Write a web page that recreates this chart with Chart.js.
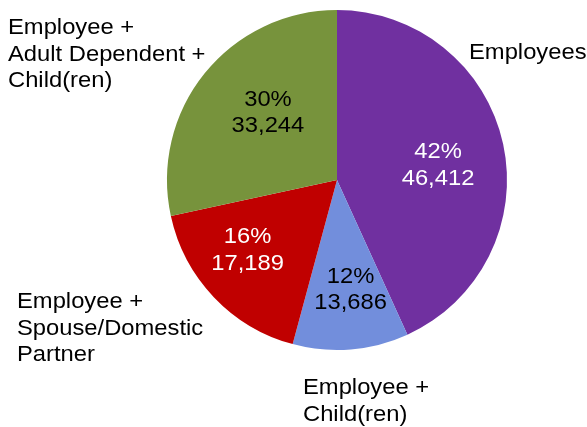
<!DOCTYPE html>
<html>
<head>
<meta charset="utf-8">
<script src="https://cdn.jsdelivr.net/npm/chart.js@4/dist/chart.umd.min.js"></script>
<style>
  html, body { margin: 0; padding: 0; background: #ffffff; }
  #wrap { width: 587px; height: 427px; position: relative; }
</style>
</head>
<body>
<div id="wrap"><canvas id="c" width="587" height="427"></canvas></div>
<script>
const categories = [
  "Employees",
  "Employee + Child(ren)",
  "Employee + Spouse/Domestic Partner",
  "Employee + Adult Dependent + Child(ren)"
];
const categoryLines = [
  ["Employees"],
  ["Employee +", "Child(ren)"],
  ["Employee +", "Spouse/Domestic", "Partner"],
  ["Employee +", "Adult Dependent +", "Child(ren)"]
];
// Values printed on the slices
const enrollment = [46412, 13686, 17189, 33244];
const percentLabels = ["42%", "12%", "16%", "30%"];
// Slice shares (%) as drawn in the picture (measured from slice angles)
const sliceShares = [43.2, 11.0, 17.4, 28.4];
const sliceColors = ["#7030A0", "#728EDC", "#C00000", "#77933C"];
const insideTextColors = ["#ffffff", "#000000", "#ffffff", "#000000"];

const FONT = '22px "Liberation Sans", Arial, sans-serif';
const XSCALE = 1.08;
const LINE_H = 26.7;

function drawText(ctx, text, x, y, align) {
  ctx.save();
  ctx.translate(x, y);
  ctx.scale(XSCALE, 1);
  ctx.textAlign = align;
  ctx.textBaseline = 'middle';
  ctx.fillText(text, 0, 0);
  ctx.restore();
}

const labelPlugin = {
  id: 'pieLabels',
  afterDatasetsDraw(chart, args, opts) {
    const ctx = chart.ctx;
    const meta = chart.getDatasetMeta(0);
    ctx.save();
    ctx.font = FONT;
    meta.data.forEach((arc, i) => {
      const p = arc.getProps(['x', 'y', 'startAngle', 'endAngle', 'outerRadius'], true);
      const mid = (p.startAngle + p.endAngle) / 2;
      const r = p.outerRadius * opts.insideFraction;
      const adj = opts.insideAdjust[i];
      const cx = p.x + Math.cos(mid) * r + adj[0];
      const cy = p.y + Math.sin(mid) * r + adj[1];
      const lines = [percentLabels[i], enrollment[i].toLocaleString('en-US')];
      ctx.fillStyle = insideTextColors[i];
      lines.forEach((t, k) => {
        drawText(ctx, t, cx, cy + (k - (lines.length - 1) / 2) * LINE_H, 'center');
      });
      const o = opts.outside[i];
      const ox = p.x + o[0];
      const oy = p.y + o[1];
      ctx.fillStyle = '#000000';
      categoryLines[i].forEach((t, k) => {
        drawText(ctx, t, ox, oy + k * LINE_H, 'left');
      });
    });
    ctx.restore();
  }
};

new Chart(document.getElementById('c'), {
  type: 'pie',
  data: {
    labels: categories,
    datasets: [{
      data: sliceShares,
      backgroundColor: sliceColors,
      borderWidth: 0
    }]
  },
  options: {
    responsive: false,
    animation: false,
    rotation: 0,
    layout: { padding: { left: 167, right: 80, top: 10, bottom: 77 } },
    plugins: {
      legend: { display: false },
      tooltip: { enabled: false },
      pieLabels: {
        insideFraction: 0.62,
        insideAdjust: [[-2, 8], [5, 5], [-13, -2], [13, -1]],
        outside: [[132, -127], [-34, 208], [-320, 122], [-329, -152]]
      }
    }
  },
  plugins: [labelPlugin]
});
</script>
</body>
</html>
